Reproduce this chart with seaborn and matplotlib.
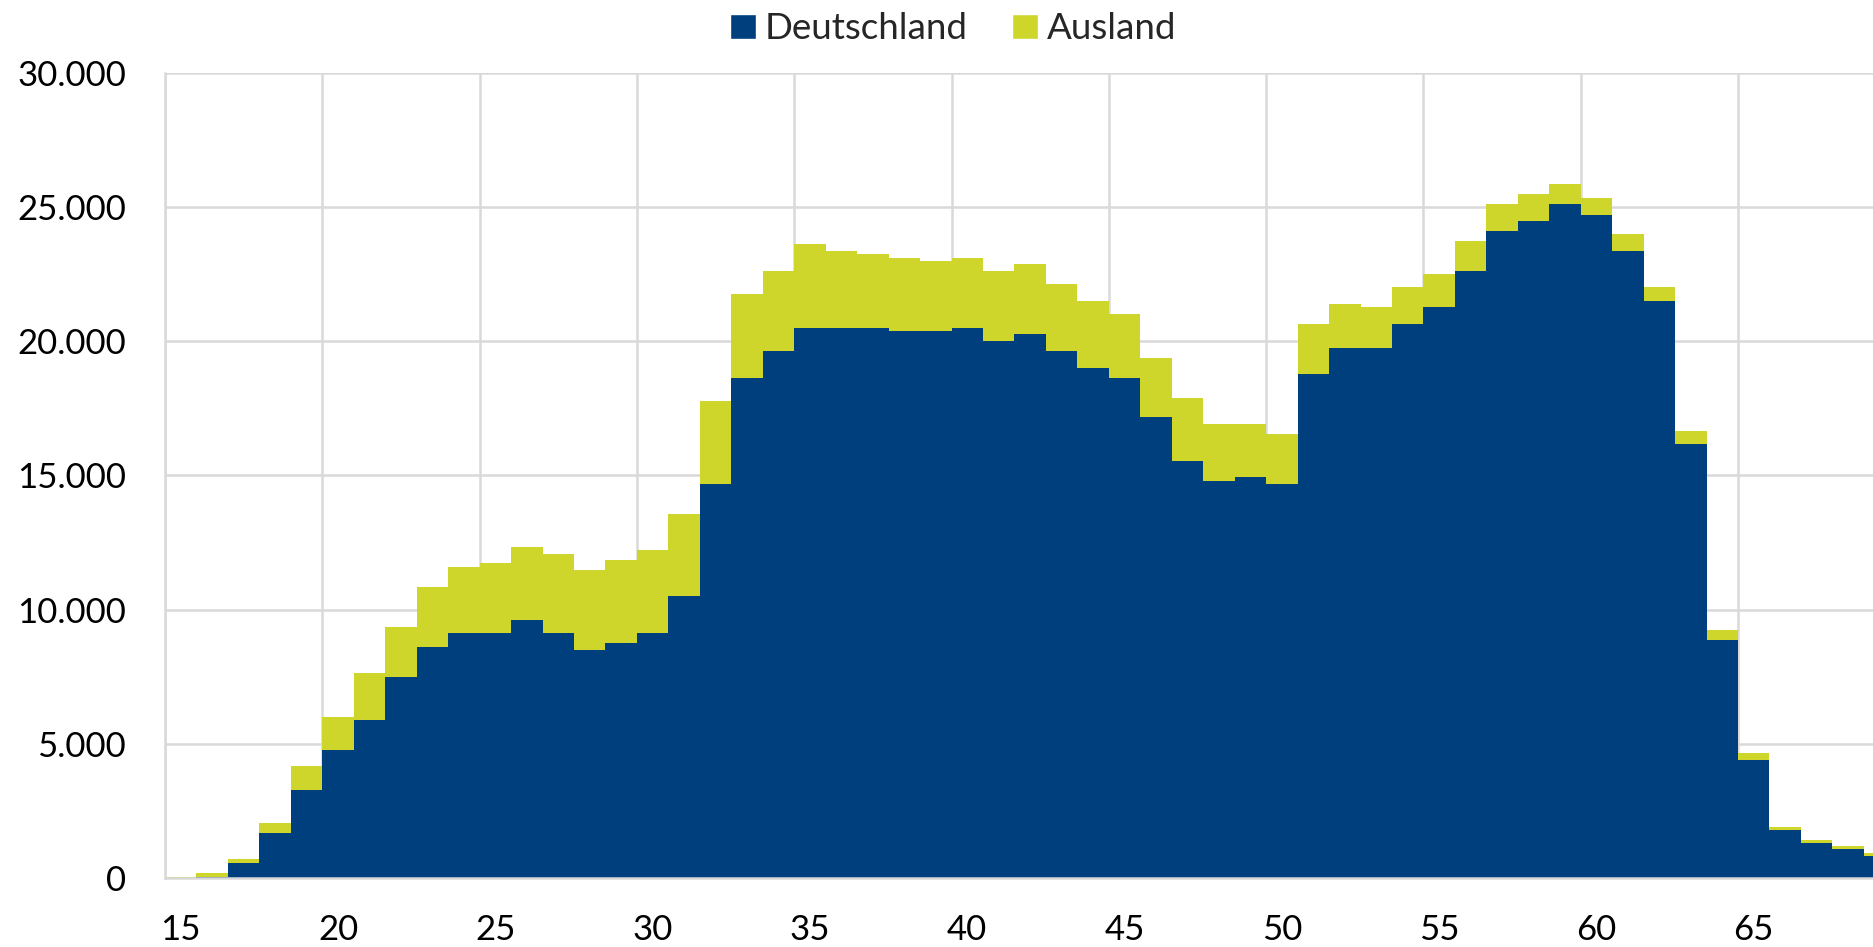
import numpy as np
import pandas as pd
import seaborn as sns
import matplotlib.pyplot as plt
from matplotlib.patches import Patch
from matplotlib.ticker import FixedLocator, FuncFormatter

# DATA
ages = list(range(15, 70))
deutschland = [0, 40, 570, 1690, 3290, 4780, 5900, 7500, 8610, 9120,
               9120, 9600, 9120, 8500, 8750, 9120, 10490, 14690, 18650, 19640,
               20500, 20500, 20500, 20390, 20390, 20500, 20010, 20260, 19640, 19020,
               18650, 17170, 15540, 14810, 14930, 14680, 18770, 19770, 19770, 20650,
               21270, 22620, 24110, 24490, 25100, 24720, 23370, 21520, 16180, 8870,
               4410, 1800, 1320, 1070, 820]
ausland = [30, 160, 130, 360, 870, 1230, 1730, 1850, 2240, 2470,
           2600, 2740, 2970, 2970, 3090, 3100, 3090, 3100, 3110, 2980,
           3120, 2870, 2750, 2730, 2610, 2620, 2610, 2610, 2490, 2490,
           2360, 2220, 2360, 2110, 1990, 1870, 1880, 1620, 1500, 1370,
           1230, 1120, 1000, 990, 750, 620, 620, 500, 490, 360,
           240, 110, 110, 110, 110]
label_ages = [15, 20, 25, 30, 35, 40, 45, 50, 55, 60, 65]
y_ticks = [0, 5000, 10000, 15000, 20000, 25000, 30000]

BLUE = "#003f7d"
YELLOW = "#ced62c"
GRID = "#d9d9d9"

df = pd.DataFrame({"age": ages, "Deutschland": deutschland, "Ausland": ausland})
df["gesamt"] = df["Deutschland"] + df["Ausland"]

sns.set_theme(style="white")
plt.rcParams["font.family"] = ["Lato", "DejaVu Sans"]

fig = plt.figure(figsize=(18.73, 9.47), dpi=100)
ax = fig.add_axes([0.0881, 0.0729, 1 - 0.0881, 0.9229 - 0.0729])

# stacked: total in yellow, Deutschland in blue on top
sns.barplot(data=df, x="age", y="gesamt", color=YELLOW, saturation=1,
            width=1.0, linewidth=0, ax=ax)
sns.barplot(data=df, x="age", y="Deutschland", color=BLUE, saturation=1,
            width=1.0, linewidth=0, ax=ax)

ax.set_ylim(0, 30000)
ax.set_xlim(-0.5, 53.79)
ax.set_xlabel("")
ax.set_ylabel("")

pos = [ages.index(a) for a in label_ages]
ax.xaxis.set_major_locator(FixedLocator(pos))
ax.set_xticklabels([str(a) for a in label_ages])
ax.xaxis.set_minor_locator(FixedLocator([p - 0.5 for p in pos]))
ax.set_yticks(y_ticks)
ax.yaxis.set_major_formatter(FuncFormatter(lambda v, _: f"{int(v):,}".replace(",", ".")))

ax.tick_params(axis="both", which="both", length=0, labelsize=25, colors="black")
ax.tick_params(axis="y", pad=28)
ax.tick_params(axis="x", pad=26)

ax.set_axisbelow(True)
ax.yaxis.grid(True, color=GRID, linewidth=1.8)
ax.xaxis.grid(True, which="minor", color=GRID, linewidth=1.8)
ax.xaxis.grid(False, which="major")

for side in ["top", "right"]:
    ax.spines[side].set_visible(False)
for side in ["left", "bottom"]:
    ax.spines[side].set_color(GRID)
    ax.spines[side].set_linewidth(1.8)

handles = [Patch(facecolor=BLUE, label="Deutschland"),
           Patch(facecolor=YELLOW, label="Ausland")]
fig.legend(handles=handles, loc="upper center", bbox_to_anchor=(0.509, 1.022),
           ncol=2, frameon=False, fontsize=26.5, handlelength=0.7,
           handleheight=0.7, handletextpad=0.25, columnspacing=1.2)

fig.savefig("out.png", dpi=100)
